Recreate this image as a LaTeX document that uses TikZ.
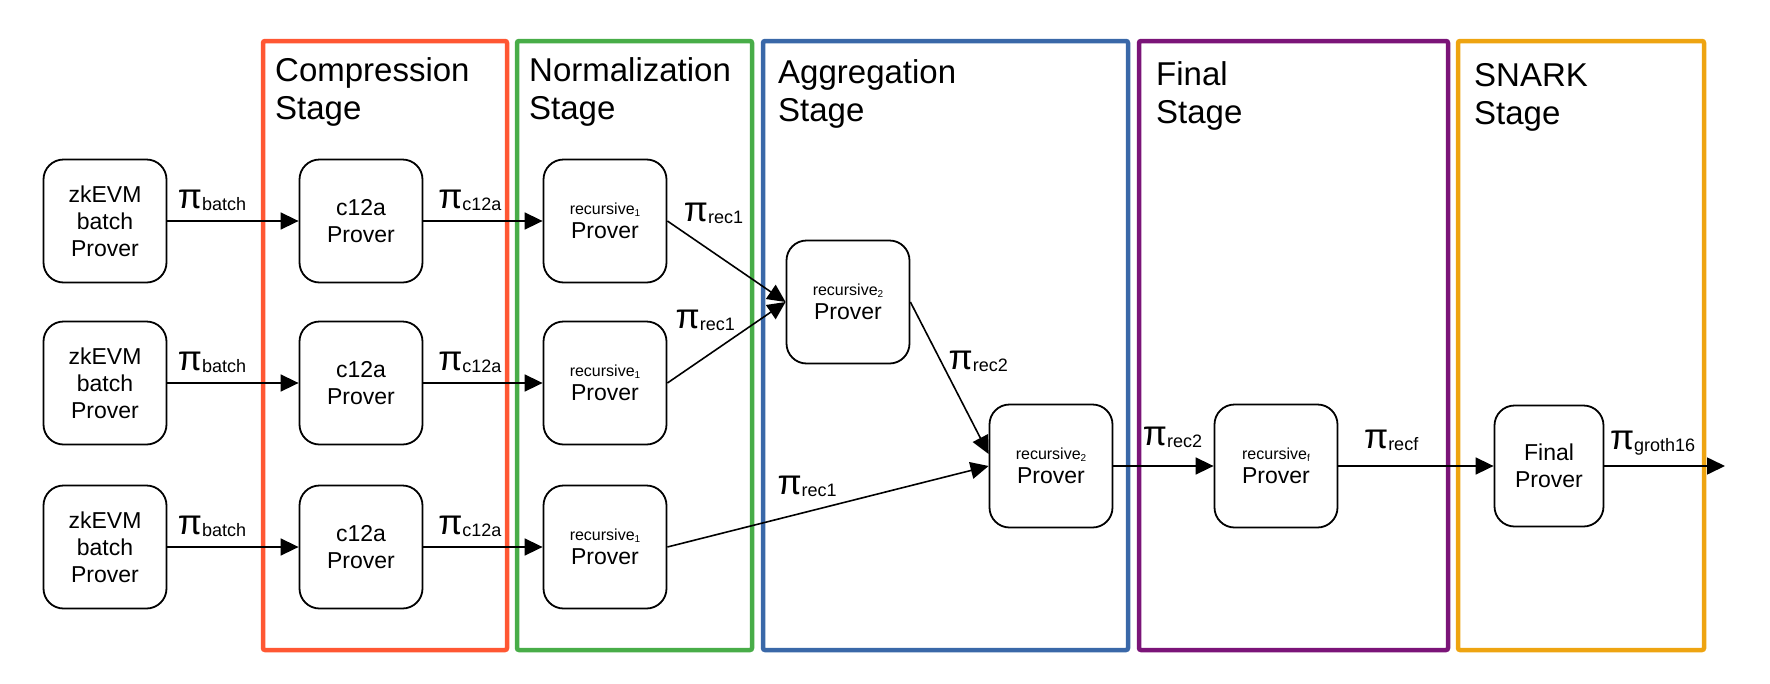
\documentclass[tikz,border=0pt]{standalone}
\usepackage{fontspec}
\setmainfont{Liberation Sans}
\usetikzlibrary{arrows.meta}
\definecolor{compcol}{RGB}{255,87,51}
\definecolor{normcol}{RGB}{72,173,72}
\definecolor{aggcol}{RGB}{58,104,168}
\definecolor{fincol}{RGB}{123,20,120}
\definecolor{snarkcol}{RGB}{238,164,17}
\tikzset{
  prover/.style={draw, line width=1.8pt, rounded corners=20pt, minimum width=123pt,
    minimum height=123pt, align=center, inner sep=0pt, font={\fontsize{23}{27}\selectfont}},
  stagebox/.style={line width=4.5pt, rounded corners=2pt},
  stagetitle/.style={anchor=north west, align=left, inner sep=0pt,
    font={\fontsize{33}{38}\selectfont}},
  proof/.style={line width=1.6pt, -{Triangle[length=18pt,width=17pt]}},
  pilbl/.style={inner sep=0pt}}
\newcommand{\prf}[1]{{\fontsize{35}{35}\selectfont π}\raisebox{-2pt}{\fontsize{18}{18}\selectfont #1}}
\newcommand{\rsub}[1]{{\fontsize{16}{16}\selectfont recursive\raisebox{-2pt}{\fontsize{10}{10}\selectfont #1}}}

\begin{document}
\begin{tikzpicture}[x=1pt,y=-1pt]
\useasboundingbox (0,0) rectangle (1770,683);
% stages
\draw [stagebox, compcol] (263,41) rectangle (507,650);
\draw [stagebox, normcol] (517,41) rectangle (752,650);
\draw [stagebox, aggcol] (763,41) rectangle (1128,650);
\draw [stagebox, fincol] (1139,41) rectangle (1448,650);
\draw [stagebox, snarkcol] (1458,41) rectangle (1704,650);
\node [stagetitle] (tcomp) at (275,57) {Compression\\Stage};
\node [stagetitle] (tnorm) at (529,57) {Normalization\\Stage};
\node [stagetitle] (tagg) at (778,59) {Aggregation\\Stage};
\node [stagetitle] (tfin) at (1156,61) {Final\\Stage};
\node [stagetitle] (tsnark) at (1474,63) {SNARK\\Stage};
% three batches
\foreach \row/\y in {1/221,2/383,3/547} {
  \node [prover] (zk\row) at (105,\y) {zkEVM\\batch\\Prover};
  \node [prover] (cp\row) at (361,\y) {c12a\\Prover};
  \node [prover] (ra\row) at (605,\y) {\rsub{1}\\[-3pt]Prover};
  \draw [proof] (zk\row) -- node [pilbl, pos=0.34, above=10pt] {\prf{batch}} (cp\row);
  \draw [proof] (cp\row) -- node [pilbl, pos=0.39, above=10pt] {\prf{c12a}} (ra\row);
}
% aggregation and beyond
\node [prover] (rb1) at (848,302) {\rsub{2}\\[-3pt]Prover};
\node [prover] (rb2) at (1051,466) {\rsub{2}\\[-3pt]Prover};
\node [prover] (rf) at (1276,466) {\rsub{f}\\[-3pt]Prover};
\node [prover, minimum width=109pt, minimum height=121pt] (fin) at (1549,466) {Final\\Prover};
\coordinate (out) at (1725,466);
\draw [proof] (ra1.east) -- node [pilbl, pos=0.39, above=28pt] {\prf{rec1}} (rb1.west);
\draw [proof] (ra2.east) -- node [pilbl, pos=0.32, above=26pt] {\prf{rec1}} (rb1.west);
\draw [proof] (ra3.east) -- node [pilbl, pos=0.435, above=14pt] {\prf{rec1}} (rb2.west);
\draw [proof] (rb1.east) -- node [pilbl, pos=0.39, right=7pt] {\prf{rec2}} ([yshift=12pt]rb2.west);
\draw [proof] (rb2) -- node [pilbl, pos=0.59, above=18pt] {\prf{rec2}} (rf);
\draw [proof] (rf) -- node [pilbl, pos=0.34, above=15pt] {\prf{recf}} (fin);
\draw [proof] (fin) -- node [pilbl, pos=0.40, above=10pt] {\prf{groth16}} (out);
\end{tikzpicture}
\end{document}
